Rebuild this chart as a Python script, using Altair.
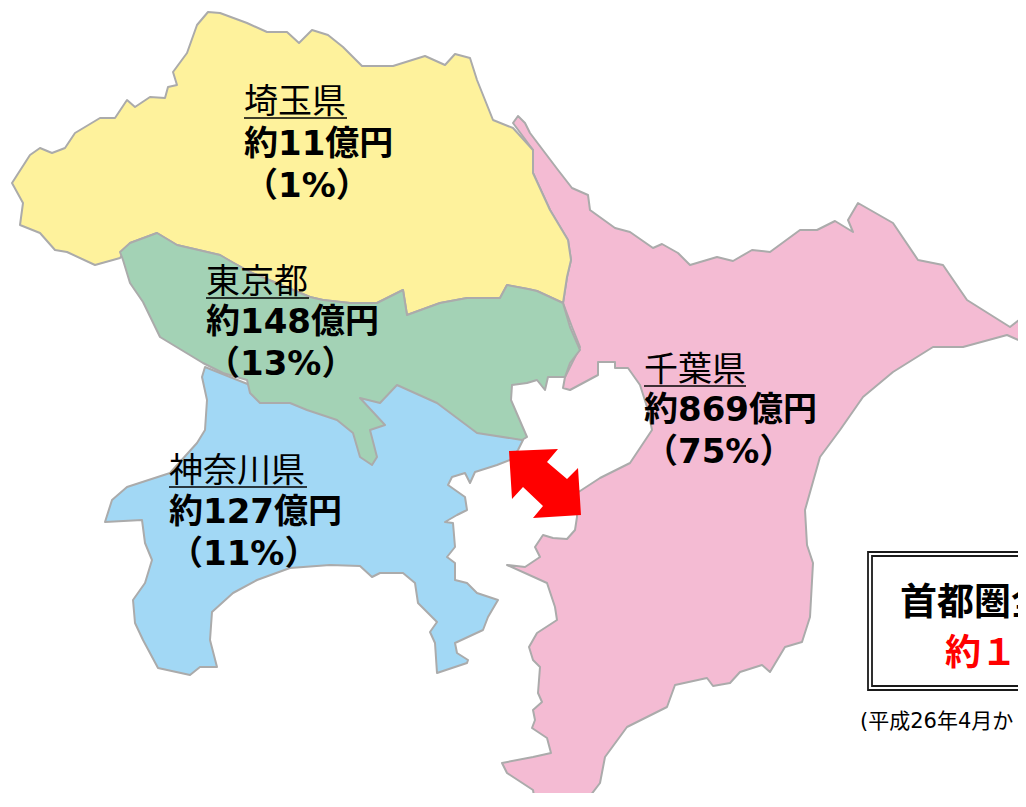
import altair as alt

saitama = [(208,12),(220,13),(247,23),(267,32),(287,32),(299,43),(312,30),(328,35),(343,47),(362,66),(393,66),(425,56),(445,65),(455,54),(470,58),(477,80),(493,120),(513,128),(533,150),(533,173),(550,210),(568,240),(571,260),(567,277),(563,303),(537,291),(528,289),(507,285),(500,298),(467,298),(440,303),(407,315),(403,290),(377,303),(350,303),(323,300),(310,297),(250,272),(232,262),(220,255),(177,245),(157,233),(130,243),(120,258),(95,265),(67,252),(55,250),(40,233),(20,225),(23,203),(12,183),(30,155),(40,148),(52,153),(65,148),(75,133),(100,118),(115,118),(127,100),(135,107),(150,97),(165,98),(168,87),(177,85),(173,72),(187,53),(197,25)]
tokyo = [(120,252),(130,243),(157,233),(177,245),(220,255),(232,262),(250,272),(310,297),(323,300),(350,303),(377,303),(403,290),(407,315),(440,303),(467,298),(500,298),(507,285),(528,289),(537,291),(563,303),(570,327),(580,350),(570,363),(565,377),(548,377),(545,390),(537,380),(527,383),(512,385),(511,400),(527,437),(522,440),(477,433),(457,418),(437,403),(397,385),(380,403),(360,398),(385,425),(370,430),(377,457),(372,465),(360,457),(353,433),(337,420),(307,410),(290,403),(260,403),(250,393),(247,380),(223,373),(203,363),(160,337),(143,302),(130,283),(123,260)]
kanagawa = [(205,367),(202,377),(207,400),(205,430),(197,443),(170,473),(127,487),(112,500),(105,522),(142,520),(145,543),(152,560),(145,583),(133,600),(135,623),(143,640),(158,668),(190,675),(200,667),(217,667),(210,640),(212,612),(233,593),(257,580),(290,568),(330,565),(360,566),(372,577),(380,573),(403,573),(415,583),(418,603),(437,622),(430,632),(435,643),(437,673),(467,663),(468,660),(457,653),(455,643),(483,630),(488,617),(498,600),(477,593),(467,583),(455,580),(455,563),(447,557),(455,547),(453,523),(445,522),(457,515),(467,510),(465,497),(448,485),(452,477),(465,473),(470,483),(475,472),(497,465),(510,460),(518,450),(523,440),(430,395),(397,383),(350,385),(250,385)]
chiba = [(518,116),(513,123),(533,150),(533,173),(550,210),(568,240),(571,260),(567,277),(563,303),(572,327),(580,347),(565,377),(563,388),(570,390),(598,375),(598,362),(615,362),(615,368),(628,368),(640,385),(648,410),(652,430),(630,463),(600,478),(577,493),(577,517),(575,530),(567,539),(553,538),(543,535),(535,547),(540,557),(525,567),(507,565),(547,583),(555,607),(557,620),(537,633),(529,647),(533,660),(540,667),(538,693),(542,702),(533,710),(535,720),(532,728),(547,738),(551,753),(533,757),(502,763),(507,773),(533,790),(535,802),(553,807),(587,800),(600,783),(605,757),(627,727),(667,707),(675,685),(707,678),(713,686),(730,683),(740,672),(762,665),(770,672),(785,647),(802,642),(810,617),(813,563),(807,545),(805,510),(820,457),(840,430),(863,397),(893,372),(933,347),(963,347),(1007,335),(1023,342),(1040,350),(1040,310),(1023,317),(1010,327),(967,300),(943,265),(918,260),(893,223),(858,203),(848,220),(853,232),(835,221),(817,230),(800,230),(770,252),(752,250),(733,261),(717,257),(690,265),(678,253),(662,244),(653,248),(630,232),(615,228),(590,210),(588,195),(572,188),(558,170),(530,133),(525,123)]
arrow = [(509,451),(558,449),(547,462),(567,479),(578,468),(581,515),(533,518),(543,506),(523,487),(512,499)]
box_outer = [(868,552),(1060,552),(1060,690),(868,690)]
box_inner = [(872,556),(1060,556),(1060,686),(872,686)]

names = ["千葉県", "神奈川県", "埼玉県", "東京都"]
fills = ["#F4BBD3", "#A2D8F5", "#FEF29C", "#A3D2B5"]
shapes = [chiba, kanagawa, saitama, tokyo]

title_labels = ["埼玉県", "東京都", "千葉県", "神奈川県"]
title_x = [244, 206, 644, 169]
title_y = [113, 293, 381, 482]
under_end = [347, 309, 746, 307]
under_y = [118, 298, 386, 487]
amounts = ["約11億円", "約148億円", "約869億円", "約127億円"]
amount_y = [155, 333, 421, 523]
shares = ["（1%）", "（13%）", "（75%）", "（11%）"]
share_y = [197, 375, 463, 565]

total_lines = ["首都圏全", "約１"]
total_x = [900, 945]
total_y = [615, 665]
note = "(平成26年4月か"
note_x, note_y = 860, 728

FONT = "DejaVu Sans, Noto Sans CJK JP"


def poly(pts, **props):
    ring = [list(p) for p in pts] + [list(pts[0])]
    return {"type": "Feature", "properties": props,
            "geometry": {"type": "Polygon", "coordinates": [ring]}}


def seg(x0, x1, y):
    return {"type": "Feature", "properties": {},
            "geometry": {"type": "LineString", "coordinates": [[x0, y], [x1, y]]}}


pref_features = [poly(s, name=n) for s, n in zip(shapes, names)]
prefs = alt.Chart(alt.Data(values=pref_features)).mark_geoshape(
    stroke="#ABABAB", strokeWidth=2, strokeJoin="round"
).encode(
    fill=alt.Fill("properties.name:N", legend=None,
                  scale=alt.Scale(domain=names, range=fills))
)

arrow_layer = alt.Chart(alt.Data(values=[poly(arrow)])).mark_geoshape(fill="#FF0000", stroke=None)

boxes = alt.Chart(alt.Data(values=[poly(box_outer), poly(box_inner)])).mark_geoshape(
    fill="#FFFFFF", stroke="#1A1A1A", strokeWidth=1.8
)

underlines = alt.Chart(alt.Data(values=[seg(a, b, y) for a, b, y in zip(title_x, under_end, under_y)])).mark_geoshape(
    filled=False, stroke="#000000", strokeWidth=1.6
)

titles = [{"t": t, "x": x, "y": y} for t, x, y in zip(title_labels, title_x, title_y)]
amts = [{"t": t, "x": x, "y": y} for t, x, y in zip(amounts, title_x, amount_y)]
shs = [{"t": t, "x": x, "y": y} for t, x, y in zip(shares, title_x, share_y)]
tots = [{"t": t, "x": x, "y": y} for t, x, y in zip(total_lines, total_x, total_y)]


def text_layer(rows, size, weight, color="#000000"):
    return alt.Chart(alt.Data(values=rows)).mark_text(
        align="left", baseline="alphabetic", font=FONT, fontSize=size, fontWeight=weight, color=color
    ).encode(longitude="x:Q", latitude="y:Q", text="t:N")


chart = alt.layer(
    prefs, arrow_layer, boxes, underlines,
    text_layer(titles, 34, "normal"),
    text_layer(amts, 34, "bold"),
    text_layer(shs, 34, "bold"),
    text_layer([tots[0]], 37, "bold", "#000000"),
    text_layer([tots[1]], 36, "bold", "#FF0000"),
    text_layer([{"t": note, "x": note_x, "y": note_y}], 21, "normal"),
).project(
    type="identity", scale=1, translate=[-8, -8]
).properties(
    width=1010, height=785, padding=0,
    autosize=alt.AutoSizeParams(type="none"),
).configure_view(stroke=None)

chart.save("out.html", embed_options={"renderer": "svg", "actions": False})
